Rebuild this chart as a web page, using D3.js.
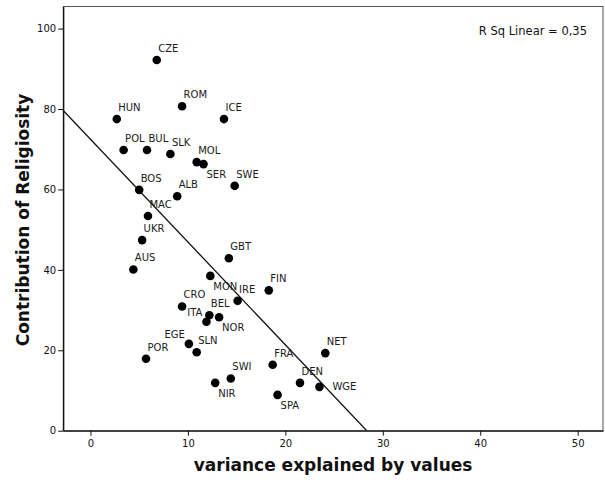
<!DOCTYPE html>
<html>
<head>
<meta charset="utf-8">
<script src="https://cdn.jsdelivr.net/npm/d3@7"></script>
<style>
  body { margin: 0; background: #fff; }
  svg { display: block; font-family: "DejaVu Sans", sans-serif; }
</style>
</head>
<body>
<svg id="chart"></svg>
<script>
// country codes
var countries = ["CZE","ROM","HUN","ICE","POL","BUL","SLK","MOL","SER","SWE",
                 "BOS","ALB","MAC","UKR","GBT","AUS","MON","FIN","IRE","CRO",
                 "ITA","BEL","NOR","EGE","SLN","POR","FRA","NET","SWI","NIR",
                 "DEN","WGE","SPA"];
// variance explained by values
var varianceValues = [6.8, 9.4, 2.7, 13.7, 3.4, 5.8, 8.2, 10.9, 11.6, 14.8,
                      5.0, 8.9, 5.9, 5.3, 14.2, 4.4, 12.3, 18.3, 15.1, 9.4,
                      11.9, 12.2, 13.2, 10.1, 10.9, 5.7, 18.7, 24.1, 14.4, 12.8,
                      21.5, 23.5, 19.2];
// contribution of religiosity
var religiosity = [92.2, 80.7, 77.5, 77.5, 69.8, 69.8, 68.8, 66.8, 66.3, 60.9,
                   59.9, 58.3, 53.4, 47.4, 42.9, 40.1, 38.5, 34.9, 32.3, 30.9,
                   27.1, 28.7, 28.2, 21.6, 19.5, 17.9, 16.4, 19.3, 13.0, 11.9,
                   11.9, 10.9, 8.9];
// where the label sits relative to its point
var labelSide = ["n","n","n","n","n","n","n","n","s","n",
                 "n","n","n","n","n","n","s","n","n","n",
                 "w","n","s","w","n","n","n","n","n","s",
                 "n","e","s"];

var xTicks = [0, 10, 20, 30, 40, 50];
var yTicks = [0, 20, 40, 60, 80, 100];
var fitIntercept = 72.5;
var fitSlope = -2.557;
var rSqText = "R Sq Linear = 0,35";

function init(){
    var width = 605, height = 484;
    var left = 63.2, right = 603, top = 6.5, bottom = 430.7;

    var svg = d3.select("svg#chart")
      .attr("width", width)
      .attr("height", height);

    svg.append("rect")
      .attr("width", width)
      .attr("height", height)
      .attr("fill", "#fff");

    var x = d3.scaleLinear().domain([-2.8, 52.6]).range([left, right]);
    var y = d3.scaleLinear().domain([0, 105.5]).range([bottom, top]);

    // frame
    svg.append("rect")
      .attr("x", left).attr("y", top)
      .attr("width", right - left).attr("height", bottom - top)
      .attr("fill", "none")
      .attr("stroke", "#555")
      .attr("stroke-width", 1);

    // axes
    var xAxis = svg.append("g")
      .attr("transform", "translate(0," + bottom + ")")
      .call(d3.axisBottom(x).tickValues(xTicks).tickSize(5).tickSizeOuter(0));
    var yAxis = svg.append("g")
      .attr("transform", "translate(" + left + ",0)")
      .call(d3.axisLeft(y).tickValues(yTicks).tickSize(5).tickSizeOuter(0));

    [xAxis, yAxis].forEach(function(g){
      g.select(".domain").attr("stroke", "#111").attr("stroke-width", 1.3);
      g.selectAll(".tick line").attr("stroke", "#111");
      g.selectAll(".tick text")
        .attr("fill", "#111")
        .style("font-family", "DejaVu Sans, sans-serif")
        .style("font-size", "10px");
    });
    xAxis.selectAll(".tick text").attr("y", 9);
    yAxis.selectAll(".tick text").attr("x", -7);

    // regression line, clipped to the plot frame
    svg.append("clipPath").attr("id", "plotclip")
      .append("rect")
      .attr("x", left).attr("y", top)
      .attr("width", right - left).attr("height", bottom - top);

    var xEnd = -fitIntercept / fitSlope;
    var x0 = x.domain()[0];
    svg.append("line")
      .attr("clip-path", "url(#plotclip)")
      .attr("x1", x(x0)).attr("y1", y(fitIntercept + fitSlope * x0))
      .attr("x2", x(xEnd)).attr("y2", y(0))
      .attr("stroke", "#111")
      .attr("stroke-width", 1.3);

    var points = countries.map(function(c, i){
      return {name: c, vx: varianceValues[i], vy: religiosity[i], side: labelSide[i]};
    });

    svg.append("g").selectAll("circle")
      .data(points)
      .enter().append("circle")
        .attr("cx", function(d){ return x(d.vx); })
        .attr("cy", function(d){ return y(d.vy); })
        .attr("r", 4.3)
        .attr("fill", "#000");

    var offsets = {
      n: {dx: 1.5, dy: -8, anchor: "start"},
      s: {dx: 3, dy: 14, anchor: "start"},
      w: {dx: -4, dy: -6, anchor: "end"},
      e: {dx: 13, dy: 3, anchor: "start"}
    };

    svg.append("g").selectAll("text")
      .data(points)
      .enter().append("text")
        .attr("x", function(d){ return x(d.vx) + offsets[d.side].dx; })
        .attr("y", function(d){ return y(d.vy) + offsets[d.side].dy; })
        .attr("text-anchor", function(d){ return offsets[d.side].anchor; })
        .attr("font-size", "10px")
        .attr("fill", "#1a1a1a")
        .text(function(d){ return d.name; });

    // R square note
    svg.append("text")
      .attr("x", 587).attr("y", 35)
      .attr("text-anchor", "end")
      .attr("font-size", "11.5px")
      .attr("fill", "#111")
      .text(rSqText);

    // axis titles
    svg.append("text")
      .attr("x", (left + right) / 2).attr("y", 471)
      .attr("text-anchor", "middle")
      .attr("font-size", "17px")
      .attr("font-weight", "bold")
      .attr("fill", "#111")
      .text("variance explained by values");

    svg.append("text")
      .attr("transform", "translate(29," + 220 + ") rotate(-90)")
      .attr("text-anchor", "middle")
      .attr("font-size", "17px")
      .attr("font-weight", "bold")
      .attr("fill", "#111")
      .text("Contribution of Religiosity");
}

init();
</script>
</body>
</html>
